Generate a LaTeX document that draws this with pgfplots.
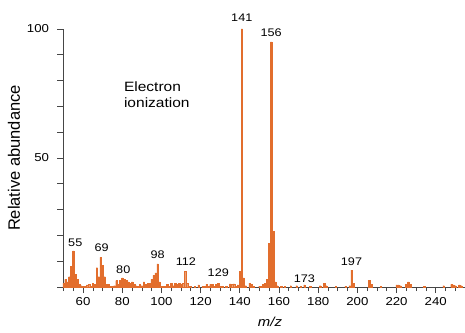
\documentclass[border=0pt]{standalone}
\usepackage{pgfplots}
\pgfplotsset{compat=1.18}
\usepackage{pgfplotstable}
\usepackage{fontspec}
\setmainfont{Liberation Sans}[FakeStretch=1.15]
\newfontfamily\ylabfont{Liberation Sans}
\definecolor{specorange}{RGB}{226,110,45}
\definecolor{axgray}{RGB}{70,70,70}
\pgfplotstableread{
mz ab
50 1.5
51 3
52 2
53 4
54 8
55 14
56 5
57 3
58 1
59 0.5
60 0.3
61 0.3
62 0.8
63 1
64 0.3
65 1.5
66 1
67 7.5
68 4
69 11.5
70 8.5
71 4
72 1
73 1
74 0.3
75 0.3
76 0.5
77 2.5
78 1
79 2.5
80 3.5
81 3
82 2.5
83 2
84 1.5
85 2
86 1
87 0.5
88 0.3
89 1
90 0.5
91 2
92 1
93 1.5
94 1.5
95 3
96 4.5
97 5.5
98 9
99 2
100 0.3
101 0.3
102 0.3
103 1
104 0.3
105 1.5
106 0.5
107 1.5
108 1
109 1.5
110 1
111 1.5
112 6
113 1.5
114 0.3
115 0.3
117 0.3
119 0.8
121 0.3
122 0.3
123 1
124 0.3
125 1
126 1
127 0.3
128 1
129 1.5
130 0.3
131 0.3
133 0.3
135 1.2
136 1
137 1.2
138 0.3
139 0.8
140 6
141 100
142 3.5
143 0.5
145 1.5
146 1
147 0.3
150 0.3
151 0.3
152 1
153 1.5
154 3
155 17
156 95
157 21.5
158 2
159 0.5
161 0.3
163 0.3
166 0.5
169 0.5
171 0.3
173 0.8
176 0.3
181 0.5
183 1.5
184 0.5
189 0.3
194 0.3
196 0.5
197 6.5
198 1.5
206 2.5
207 1
212 0.3
220 0.8
221 0.8
222 0.5
225 1
226 2
227 1
234 0.3
244 0.5
248 1
249 0.8
250 0.5
252 0.8
253 0.5
}\spectrum
\begin{document}
\begin{tikzpicture}
\begin{axis}[
  name=ax,
  scale only axis,
  width=431pt, height=258pt,
  xmin=50, xmax=270, ymin=0, ymax=100,
  axis lines*=left,
  axis line style={axgray, line width=0.8pt},
  clip=false,
  xtick={60,80,...,240},
  minor xtick={50,55,...,270},
  ytick={0,10,...,100},
  yticklabels={,,,,,50,,,,,100},
  tick align=outside,
  major tick length=6pt,
  minor tick length=4pt,
  tick style={axgray, line width=0.7pt},
  every tick label/.append style={font=\fontsize{11.5}{13}\selectfont, text=black},
  /pgf/number format/assume math mode=true,
  xticklabel style={yshift=-1pt},
  yticklabel style={xshift=-5pt},
  xlabel={\textit{m/z}},
  ylabel={Relative abundance},
  xlabel style={at={(axis description cs:0.479,-0.136)}, anchor=center, font=\fontsize{13}{15}\selectfont},
  ylabel style={at={(axis description cs:-0.115,0.5)}, anchor=center, font=\ylabfont\fontsize{16.5}{18}\selectfont},
  ybar, bar width=0.75, bar shift=0pt,
]
\addplot[fill=specorange, draw=specorange, line width=0.3pt] table[x=mz, y=ab] {\spectrum};
\begin{scope}[every node/.style={font=\fontsize{11}{13}\selectfont, inner sep=0pt}]
\node at (axis cs:56,17.1) {55};
\node at (axis cs:69.5,15.1) {69};
\node at (axis cs:80.5,6.6) {80};
\node at (axis cs:98,12.4) {98};
\node at (axis cs:112.5,9.7) {112};
\node at (axis cs:129,5.4) {129};
\node at (axis cs:141,104.3) {141};
\node at (axis cs:156,98.4) {156};
\node at (axis cs:173,3.1) {173};
\node at (axis cs:197,9.7) {197};
\end{scope}
\node[anchor=west, align=left, font=\fontsize{13.5}{15.5}\selectfont, inner sep=0pt] at (axis cs:80.8,74.6) {Electron\\ionization};
\end{axis}
\pgfresetboundingbox
\path (ax.south west) ++(-63.5pt,-45pt) rectangle ++(465pt,332pt);
\end{tikzpicture}
\end{document}
